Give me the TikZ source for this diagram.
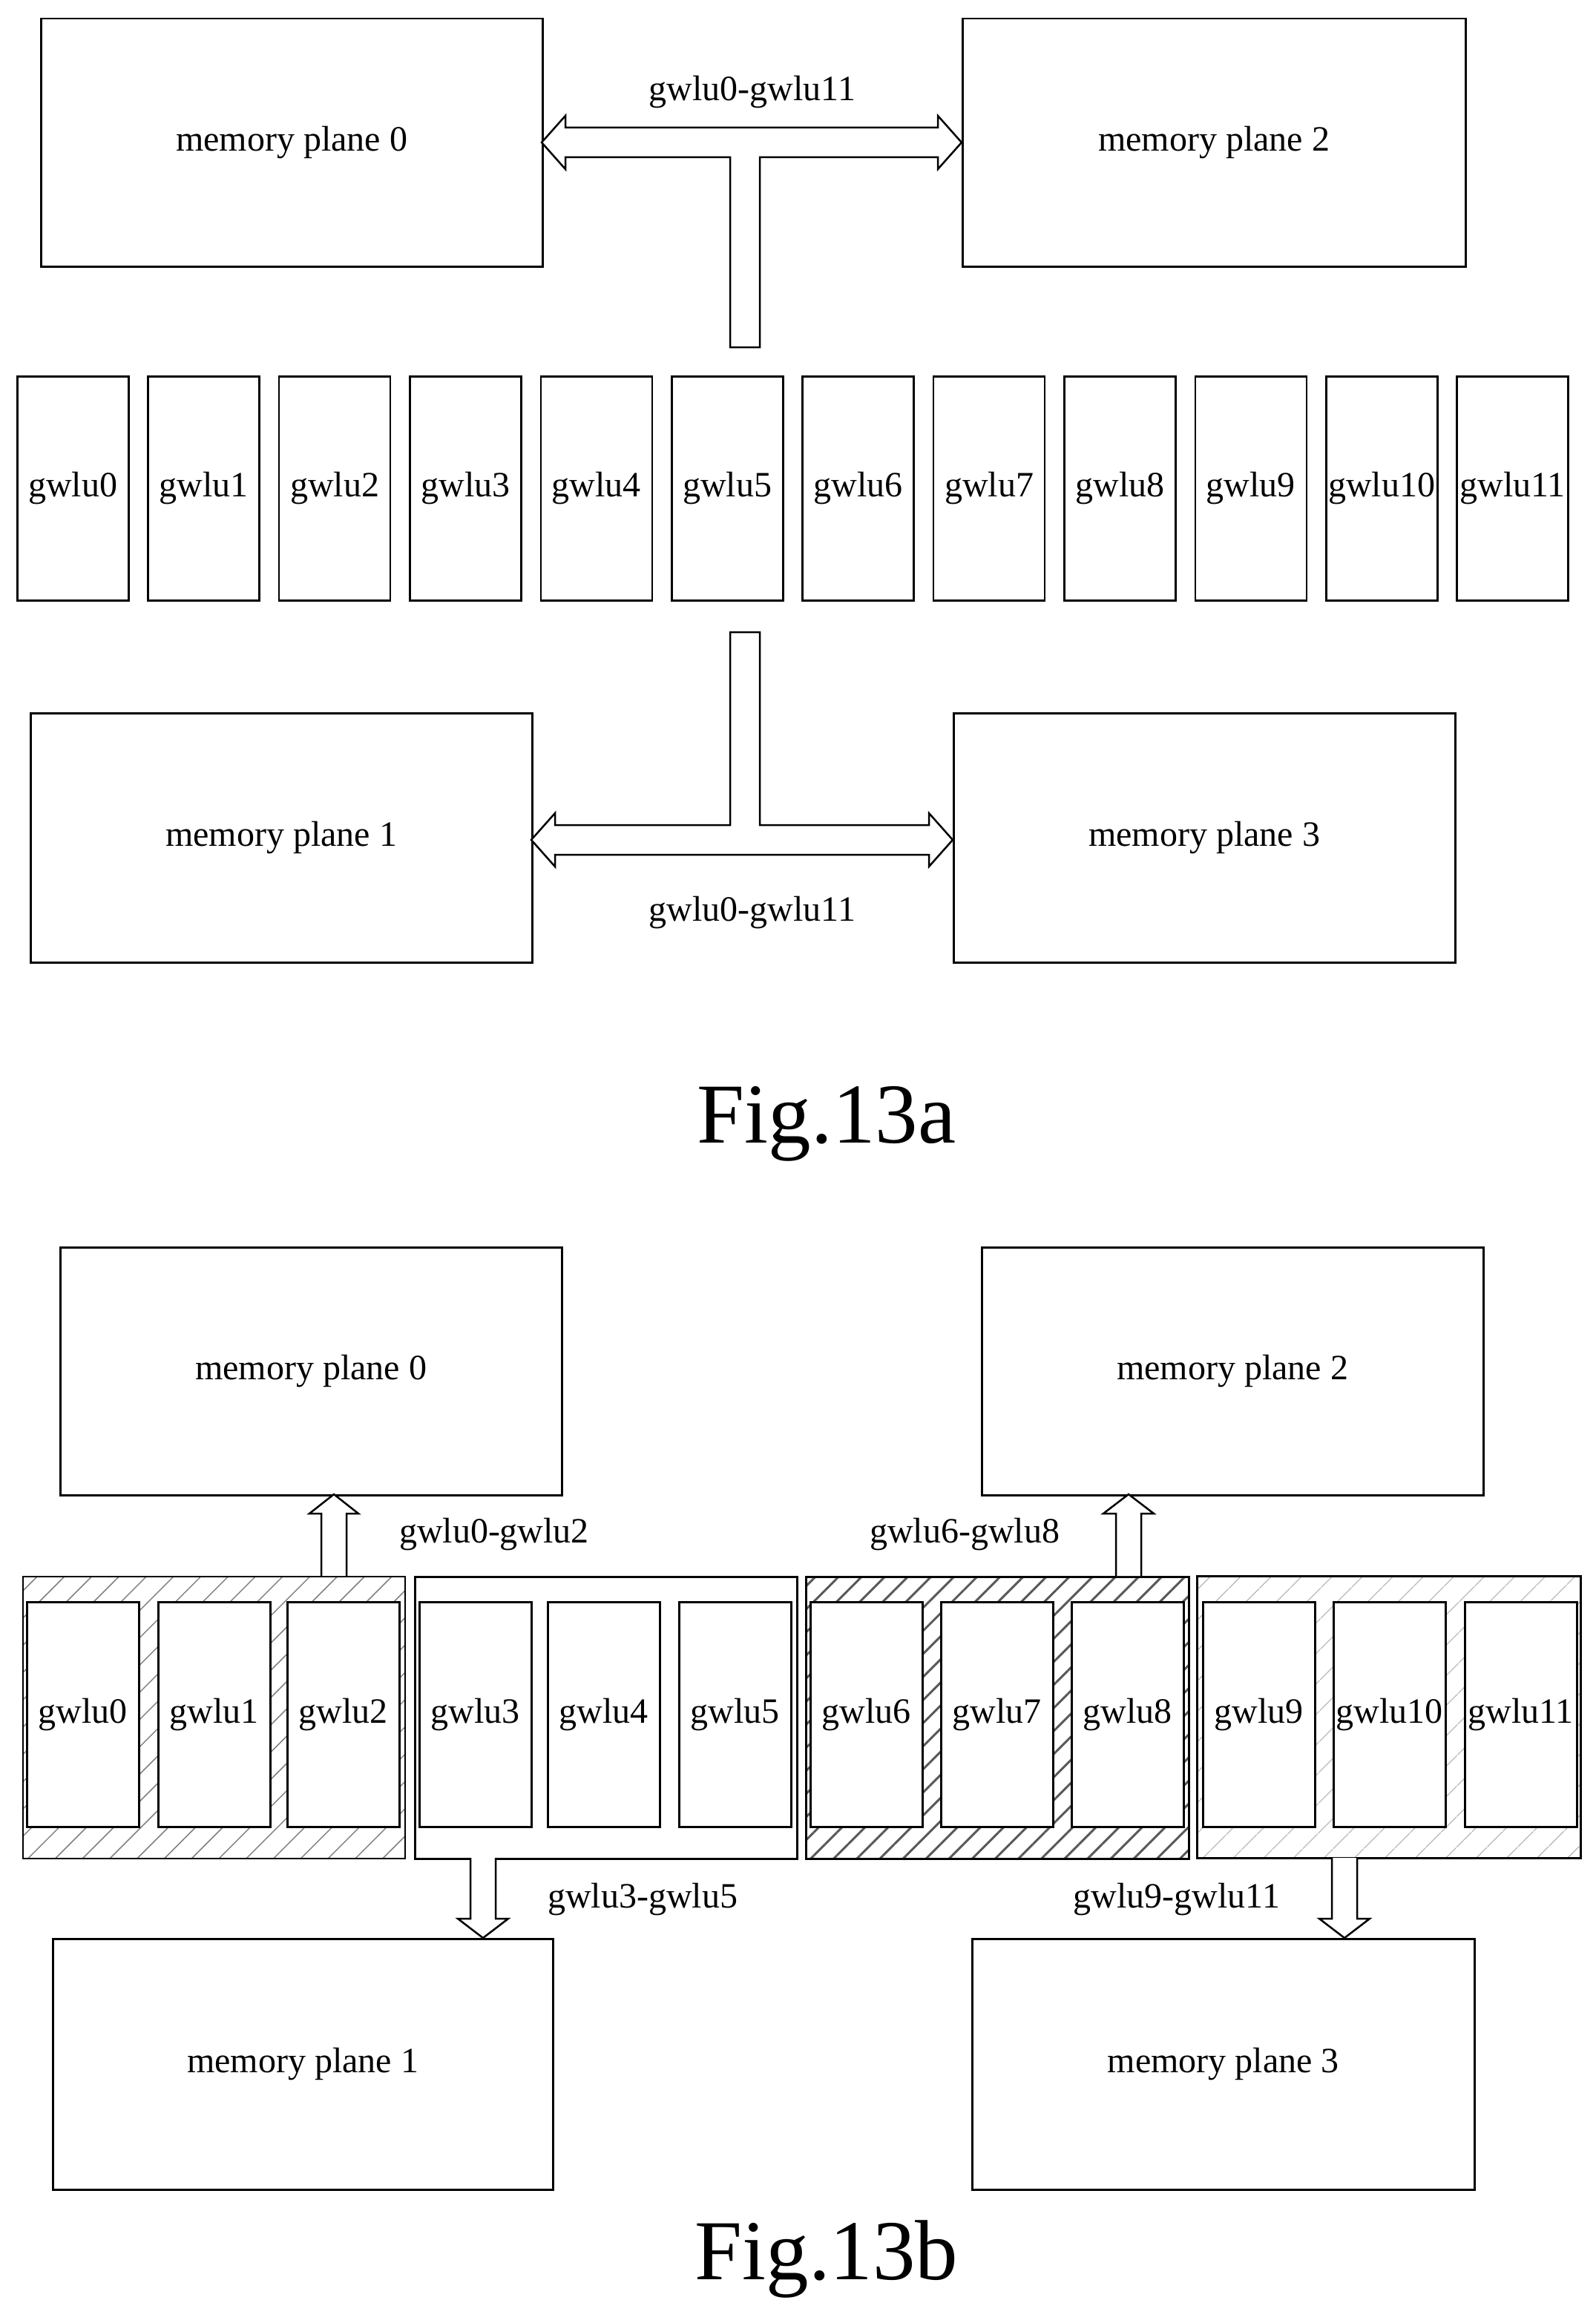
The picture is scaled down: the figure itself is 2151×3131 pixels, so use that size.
\documentclass[tikz,border=0pt]{standalone}
\usepackage{fontspec}
\setmainfont{Liberation Serif}
\usetikzlibrary{patterns.meta}
\begin{document}
\begin{tikzpicture}[x=1pt,y=-1pt,
  box/.style={draw,line width=2.5pt,inner sep=0pt,anchor=north west,font=\fontsize{48}{50}\selectfont},
  lbl/.style={font=\fontsize{48}{50}\selectfont},
  fig/.style={font=\fontsize{115}{120}\selectfont},
  arr/.style={draw,line width=2.5pt,fill=white,line join=miter}]
\useasboundingbox (0,0) rectangle (2151,3131);
% Fig 13a
\node[box,minimum width=676pt,minimum height=334pt] (a0) at (54,24) {memory plane 0};
\node[box,minimum width=678pt,minimum height=334pt] (a2) at (1296,24) {memory plane 2};
\node[box,minimum width=676pt,minimum height=336pt] (a1) at (40,960) {memory plane 1};
\node[box,minimum width=676pt,minimum height=336pt] (a3) at (1284,960) {memory plane 3};
\foreach \i in {0,...,11}{
  \node[box,minimum width=150pt,minimum height=302pt] (g\i) at (22+176.4*\i,506) {gwlu\i};
}
\draw[arr] (730,192) -- (762,156) -- (762,172) -- (1264,172) -- (1264,156) -- (1296,192)
  -- (1264,228) -- (1264,212) -- (1024,212) -- (1024,468) -- (984,468) -- (984,212)
  -- (762,212) -- (762,228) -- cycle;
\draw[arr] (984,852) -- (1024,852) -- (1024,1112) -- (1252,1112) -- (1252,1096) -- (1284,1132)
  -- (1252,1168) -- (1252,1152) -- (748,1152) -- (748,1168) -- (716,1132) -- (748,1096)
  -- (748,1112) -- (984,1112) -- cycle;
\node[lbl] (la) at (1014,124) {gwlu0-gwlu11};
\node[lbl] (lb) at (1014,1230) {gwlu0-gwlu11};
\node[fig] (f13a) at (1114,1515) {Fig.13a};
% Fig 13b
\node[box,minimum width=676pt,minimum height=334pt] (b0) at (80,1680) {memory plane 0};
\node[box,minimum width=676pt,minimum height=334pt] (b2) at (1322,1680) {memory plane 2};
\node[box,minimum width=674pt,minimum height=338pt] (b1) at (70,2612) {memory plane 1};
\node[box,minimum width=677pt,minimum height=338pt] (b3) at (1309,2612) {memory plane 3};
\node[box,minimum width=515pt,minimum height=380pt,pattern={Lines[angle=45,distance=26pt,line width=1.5pt]},pattern color=gray] (G1) at (30,2124) {};
\node[box,minimum width=515pt,minimum height=380pt] (G2) at (558,2124) {};
\node[box,minimum width=516pt,minimum height=380pt,pattern={Lines[angle=45,distance=22pt,line width=3pt]},pattern color=black!65] (G3) at (1085,2124) {};
\node[box,minimum width=517pt,minimum height=380pt,pattern={Lines[angle=45,distance=30pt,line width=1.3pt]},pattern color=gray!70] (G4) at (1613,2124) {};
\foreach \i/\x in {0/35,1/212,2/386,3/564,4/737,5/914,6/1091,7/1267,8/1443,9/1620,10/1796,11/1973}{
  \node[box,fill=white,minimum width=151pt,minimum height=303pt] (h\i) at (\x,2158) {gwlu\i};
}
% arrows
\draw[arr] (433,2124) -- (433,2040) -- (417,2040) -- (450,2014) -- (483,2040) -- (467,2040) -- (467,2124);
\draw[arr] (1504,2124) -- (1504,2040) -- (1487,2040) -- (1521,2014) -- (1555,2040) -- (1538,2040) -- (1538,2124);
\draw[arr] (634,2504) -- (634,2586) -- (617,2586) -- (651,2612) -- (685,2586) -- (668,2586) -- (668,2504);
\draw[arr] (1795,2504) -- (1795,2586) -- (1778,2586) -- (1812,2612) -- (1846,2586) -- (1829,2586) -- (1829,2504);
\node[lbl] (l02) at (666,2068) {gwlu0-gwlu2};
\node[lbl] (l68) at (1300,2068) {gwlu6-gwlu8};
\node[lbl] (l35) at (866,2560) {gwlu3-gwlu5};
\node[lbl] (l911) at (1586,2560) {gwlu9-gwlu11};
\node[fig] (f13b) at (1114,3045) {Fig.13b};
\end{tikzpicture}
\end{document}
